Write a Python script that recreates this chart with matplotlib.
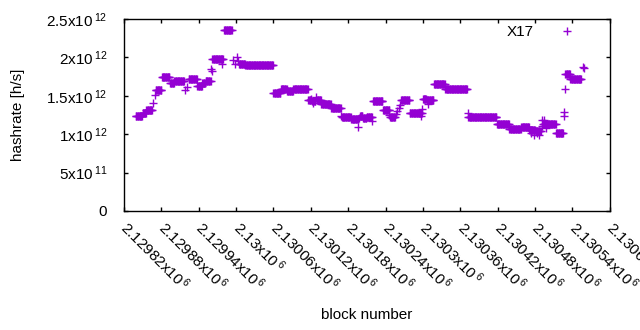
import numpy as np
import matplotlib
matplotlib.use('Agg')
import matplotlib.pyplot as plt

plt.rcParams['font.family'] = 'Liberation Sans'
plt.rcParams['mathtext.fontset'] = 'custom'
plt.rcParams['mathtext.rm'] = 'Liberation Sans'
plt.rcParams['mathtext.it'] = 'Liberation Sans'

# runs of blocks where the estimated hashrate stays flat (units of 1e12 h/s)
run_start = [2129839, 2129850, 2129856, 2129871, 2129881, 2129894, 2129901, 2129924,
             2129938, 2129946, 2129951, 2129962, 2129981, 2130005, 2130015, 2130060,
             2130072, 2130082, 2130092, 2130116, 2130122, 2130130, 2130137, 2130153,
             2130170, 2130185, 2130199, 2130204, 2130210, 2130220, 2130236, 2130247,
             2130265, 2130279, 2130300, 2130306, 2130318, 2130336, 2130373, 2130419,
             2130439, 2130458, 2130471, 2130481, 2130493, 2130514, 2130529, 2130537]
run_end = [2129849, 2129855, 2129865, 2129880, 2129893, 2129900, 2129916, 2129937,
           2129945, 2129950, 2129959, 2129979, 2129993, 2130014, 2130059, 2130071,
           2130081, 2130091, 2130115, 2130120, 2130127, 2130136, 2130152, 2130168,
           2130184, 2130196, 2130203, 2130209, 2130218, 2130235, 2130246, 2130255,
           2130278, 2130298, 2130305, 2130317, 2130335, 2130371, 2130418, 2130438,
           2130457, 2130470, 2130480, 2130489, 2130513, 2130525, 2130536, 2130554]
run_rate = [1.24, 1.275, 1.31, 1.58, 1.745, 1.67, 1.69, 1.715,
            1.63, 1.665, 1.695, 1.975, 2.353, 1.91, 1.897, 1.53,
            1.59, 1.56, 1.585, 1.44, 1.43, 1.44, 1.393, 1.337,
            1.228, 1.194, 1.24, 1.21, 1.225, 1.428, 1.311, 1.228,
            1.44, 1.272, 1.46, 1.445, 1.65, 1.585, 1.22, 1.128,
            1.063, 1.10, 1.05, 1.04, 1.133, 1.011, 1.79, 1.715]

# single blocks off the flat runs
spot_block = [2129867, 2129869, 2129918, 2129921, 2129960, 2129961, 2129977, 2129995,
              2129998, 2130001, 2130003, 2130121, 2130124, 2130129, 2130169, 2130195,
              2130197, 2130218, 2130245, 2130257, 2130259, 2130261, 2130263, 2130297,
              2130298, 2130309, 2130372, 2130474, 2130478, 2130483, 2130486, 2130491,
              2130492, 2130494, 2130497, 2130526, 2130527, 2130528, 2130557, 2130558]
spot_rate = [1.40, 1.51, 1.575, 1.62, 1.845, 1.82, 1.92, 1.97,
             1.92, 2.01, 1.95, 1.46, 1.40, 1.48, 1.233, 1.10,
             1.21, 1.17, 1.25, 1.26, 1.30, 1.34, 1.38, 1.24,
             1.33, 1.39, 1.27, 1.01, 0.99, 1.02, 0.99, 1.11,
             1.185, 1.18, 1.08, 1.29, 1.24, 1.585, 1.88, 1.86]

x_ticks = [2129820, 2129880, 2129940, 2130000, 2130060, 2130120, 2130180,
           2130240, 2130300, 2130360, 2130420, 2130480, 2130540, 2130600]
x_tick_text = ['2.12982', '2.12988', '2.12994', '2.13', '2.13006', '2.13012', '2.13018',
               '2.13024', '2.1303', '2.13036', '2.13042', '2.13048', '2.13054', '2.1306']
y_ticks = [0, 5e11, 1e12, 1.5e12, 2e12, 2.5e12]
y_tick_text = [('0', ''), ('5', '11'), ('1', '12'), ('1.5', '12'), ('2', '12'), ('2.5', '12')]

blocks = np.concatenate([np.arange(s, e + 1) for s, e in zip(run_start, run_end)] + [spot_block])
rates = np.concatenate([np.full(e - s + 1, r) for s, e, r in zip(run_start, run_end, run_rate)] + [spot_rate])
order = np.argsort(blocks, kind='stable')

fs = 11
fig = plt.figure(figsize=(6.4, 3.3), dpi=100)
ax = fig.add_axes([124 / 640, 1 - 211 / 330, 485.7 / 640, 192 / 330])

ax.plot(blocks[order], rates[order] * 1e12, '+', color='#9400d3',
        markersize=5.2, markeredgewidth=1.0, label='X17')

ax.set_xlim(2129820, 2130600)
ax.set_ylim(0, 2.5e12)
ax.set_xticks(x_ticks)
ax.set_xticklabels([t + r'x10$\mathregular{\,^{6}}$' for t in x_tick_text],
                   rotation=-45, ha='left', va='center', rotation_mode='anchor')
ax.set_yticks(y_ticks)
ax.set_yticklabels([m if not e else m + r'x10$\mathregular{\,^{' + e + '}}$' for m, e in y_tick_text])

ax.tick_params(direction='in', length=2.7, width=1, top=True, right=True,
               labelsize=fs, colors='black')
ax.tick_params(axis='x', pad=10)
ax.tick_params(axis='y', pad=12)
for sp in ax.spines.values():
    sp.set_linewidth(1)
    sp.set_color('black')

ax.set_xlabel('block number', fontsize=fs)
ax.set_ylabel('hashrate [h/s]', fontsize=fs)
ax.xaxis.set_label_coords(0.5, -0.505)
ax.yaxis.set_label_coords(-0.2035, 0.5)

ax.legend(loc='upper right', bbox_to_anchor=(0.944, 0.969), frameon=False,
          markerfirst=False, handlelength=2, handletextpad=1.2, borderpad=0,
          borderaxespad=0, fontsize=fs, numpoints=1)

fig.savefig('out.png', dpi=100)
